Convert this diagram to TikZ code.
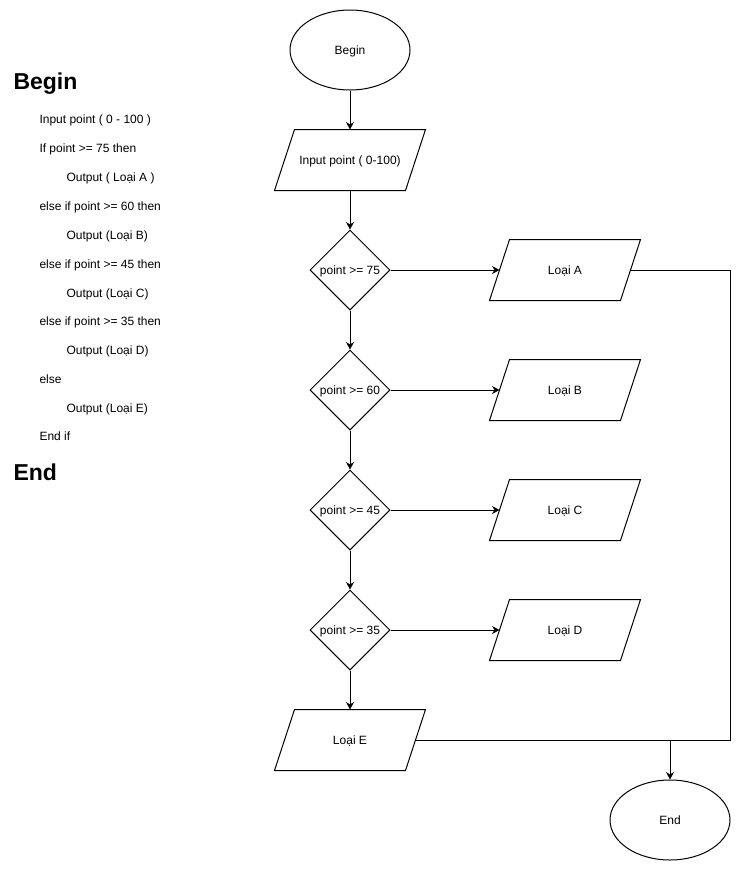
\documentclass[tikz,border=0pt]{standalone}
\usepackage{fontspec}
\setmainfont{Liberation Sans}
\usetikzlibrary{shapes.geometric,arrows.meta,calc}

\begin{document}
\begin{tikzpicture}[x=1pt,y=-1pt,line width=1pt,
  txt/.style={font=\fontsize{12pt}{14pt}\selectfont},
  shapetxt/.style={txt,text height=11pt,text depth=2pt},
  terminal/.style={ellipse,draw,minimum width=120pt,minimum height=80pt,inner sep=0pt,shapetxt},
  decision/.style={diamond,draw,minimum width=80pt,minimum height=80pt,inner sep=0pt,shapetxt},
  iobox/.style={rectangle,minimum width=130pt,minimum height=60pt,inner sep=0pt,shapetxt},
  flow/.style={-{Stealth[length=7.5pt,width=8pt,inset=2.5pt]}},
  heading/.style={font=\fontsize{23pt}{27pt}\selectfont\bfseries,anchor=base west,inner sep=0pt},
  code/.style={txt,anchor=base west,inner sep=0pt}]

\useasboundingbox[fill=white] (0,0) rectangle (742,871);

% pseudocode column
\node[heading] (hbegin) at (13,89) {Begin};
\node[code] (c1)  at (39,123) {Input point ( 0 - 100 )};
\node[code] (c2)  at (39,152) {If point >= 75 then};
\node[code] (c3)  at (66,181) {Output ( Loại A )};
\node[code] (c4)  at (39,210) {else if point >= 60 then};
\node[code] (c5)  at (66,239) {Output (Loại B)};
\node[code] (c6)  at (39,268) {else if point >= 45 then};
\node[code] (c7)  at (66,297) {Output (Loại C)};
\node[code] (c8)  at (39,325) {else if point >= 35 then};
\node[code] (c9)  at (66,354) {Output (Loại D)};
\node[code] (c10) at (39,383) {else};
\node[code] (c11) at (66,412) {Output (Loại E)};
\node[code] (c12) at (39,440) {End if};
\node[heading] (hend) at (13,480) {End};

% flowchart nodes
\node[terminal] (begin) at (350,50) {Begin};
\node[iobox] (inp) at (350,160) {Input point ( 0-100)};
\node[decision] (d1) at (350,270) {point >= 75};
\node[decision] (d2) at (350,390) {point >= 60};
\node[decision] (d3) at (350,510) {point >= 45};
\node[decision] (d4) at (350,630) {point >= 35};
\node[iobox] (la) at (565,270) {Loại A};
\node[iobox] (lb) at (565,390) {Loại B};
\node[iobox] (lc) at (565,510) {Loại C};
\node[iobox] (ld) at (565,630) {Loại D};
\node[iobox] (le) at (350,740) {Loại E};
\node[terminal] (end) at (670,820) {End};

% parallelogram outlines around the input/output boxes
\foreach \n in {inp,la,lb,lc,ld,le}
  \draw ($(\n.north west)+(10pt,0)$) -- ($(\n.north east)+(10pt,0)$)
     -- ($(\n.south east)-(10pt,0)$) -- ($(\n.south west)-(10pt,0)$) -- cycle;

% connectors
\draw[flow] (begin) -- (inp);
\draw[flow] (inp) -- (d1);
\draw[flow] (d1) -- (d2);
\draw[flow] (d2) -- (d3);
\draw[flow] (d3) -- (d4);
\draw[flow] (d4) -- (le);
\draw[flow] (d1) -- (la);
\draw[flow] (d2) -- (lb);
\draw[flow] (d3) -- (lc);
\draw[flow] (d4) -- (ld);

\coordinate (corner) at (730,740);
\coordinate (join) at (end.north |- le.east);
\draw (la.east) -| (corner) -- (le.east);
\draw[flow] (join) -- (end);

\end{tikzpicture}
\end{document}
